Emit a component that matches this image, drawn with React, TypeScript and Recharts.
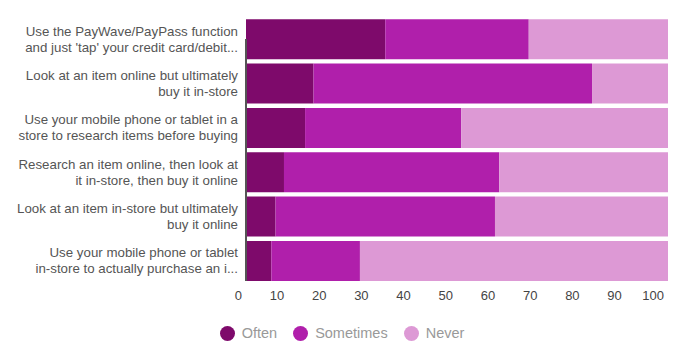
import React from 'react';
import { BarChart, Bar, XAxis, YAxis, Legend, ReferenceLine } from 'recharts';

const questions = [
  "Use the PayWave/PayPass function\nand just 'tap' your credit card/debit...",
  'Look at an item online but ultimately\nbuy it in-store',
  'Use your mobile phone or tablet in a\nstore to research items before buying',
  'Research an item online, then look at\nit in-store, then buy it online',
  'Look at an item in-store but ultimately\nbuy it online',
  'Use your mobile phone or tablet\nin-store to actually purchase an i...',
];

const often = [33, 16, 14, 9, 7, 6];
const sometimes = [34, 66, 37, 51, 52, 21];
const never = [33, 18, 49, 40, 41, 73];

const xTicks = [0, 10, 20, 30, 40, 50, 60, 70, 80, 90, 100];

const COLORS = {
  often: '#7e0a6b',
  sometimes: '#b01fab',
  never: '#dd99d5',
};

const FONT = '"Liberation Sans", Arial, sans-serif';

const data = questions.map((q, i) => ({
  name: q,
  Often: often[i],
  Sometimes: sometimes[i],
  Never: never[i],
}));

const YTick = (props: any) => {
  const { x, y, payload } = props;
  const lines = String(payload.value).split('\n');
  const lh = 16;
  const start = y - ((lines.length - 1) * lh) / 2;
  return (
    <text x={x} y={start} textAnchor="end" fill="#555" fontSize={13.3} fontFamily={FONT}>
      {lines.map((l, i) => (
        <tspan key={i} x={x} y={start + i * lh} dy="0.35em">
          {l}
        </tspan>
      ))}
    </text>
  );
};

const XTick = (props: any) => {
  const { x, y, payload } = props;
  return (
    <text x={x - 4} y={y} dy="0.71em" textAnchor="end" fill="#444" fontSize={13} fontFamily={FONT}>
      {payload.value}
    </text>
  );
};

const LegendContent = () => {
  const items = [
    { label: 'Often', color: COLORS.often },
    { label: 'Sometimes', color: COLORS.sometimes },
    { label: 'Never', color: COLORS.never },
  ];
  return (
    <div
      style={{
        height: 40,
        display: 'flex',
        justifyContent: 'center',
        alignItems: 'center',
        paddingLeft: 13,
        fontFamily: FONT,
        fontSize: 14.5,
        color: '#999',
      }}
    >
      {items.map((it) => (
        <div key={it.label} style={{ display: 'flex', alignItems: 'center', marginRight: 16 }}>
          <svg width={15} height={15} style={{ marginRight: 7 }}>
            <circle cx={7.5} cy={7.5} r={7.5} fill={it.color} />
          </svg>
          <span>{it.label}</span>
        </div>
      ))}
    </div>
  );
};

const AxisLine = (props: any) => {
  const { x1, y1, y2 } = props;
  return <line x1={x1} x2={x1} y1={y1 - 2} y2={y2 + 22} stroke="#555" strokeWidth={2} />;
};

export default function App() {
  return (
    <div style={{ position: 'absolute', left: 0, top: 0, background: '#fff' }}>
      <BarChart
        width={687}
        height={358}
        data={data}
        layout="vertical"
        margin={{ top: 17, right: 19, left: 0, bottom: 5 }}
        barCategoryGap="5%"
      >
        <XAxis
          type="number"
          domain={[0, 100]}
          ticks={xTicks}
          axisLine={false}
          tickLine={false}
          tick={<XTick />}
          height={30}
          interval={0}
        />
        <YAxis
          type="category"
          dataKey="name"
          width={246}
          axisLine={false}
          tickLine={false}
          tick={<YTick />}
          interval={0}
        />
        <Legend
          verticalAlign="bottom"
          content={<LegendContent />}
          wrapperStyle={{ left: 0, width: 687 }}
        />
        <Bar dataKey="Often" stackId="a" fill={COLORS.often} isAnimationActive={false} />
        <Bar dataKey="Sometimes" stackId="a" fill={COLORS.sometimes} isAnimationActive={false} />
        <Bar dataKey="Never" stackId="a" fill={COLORS.never} isAnimationActive={false} />
        <ReferenceLine x={0} ifOverflow="visible" shape={<AxisLine />} />
      </BarChart>
    </div>
  );
}
